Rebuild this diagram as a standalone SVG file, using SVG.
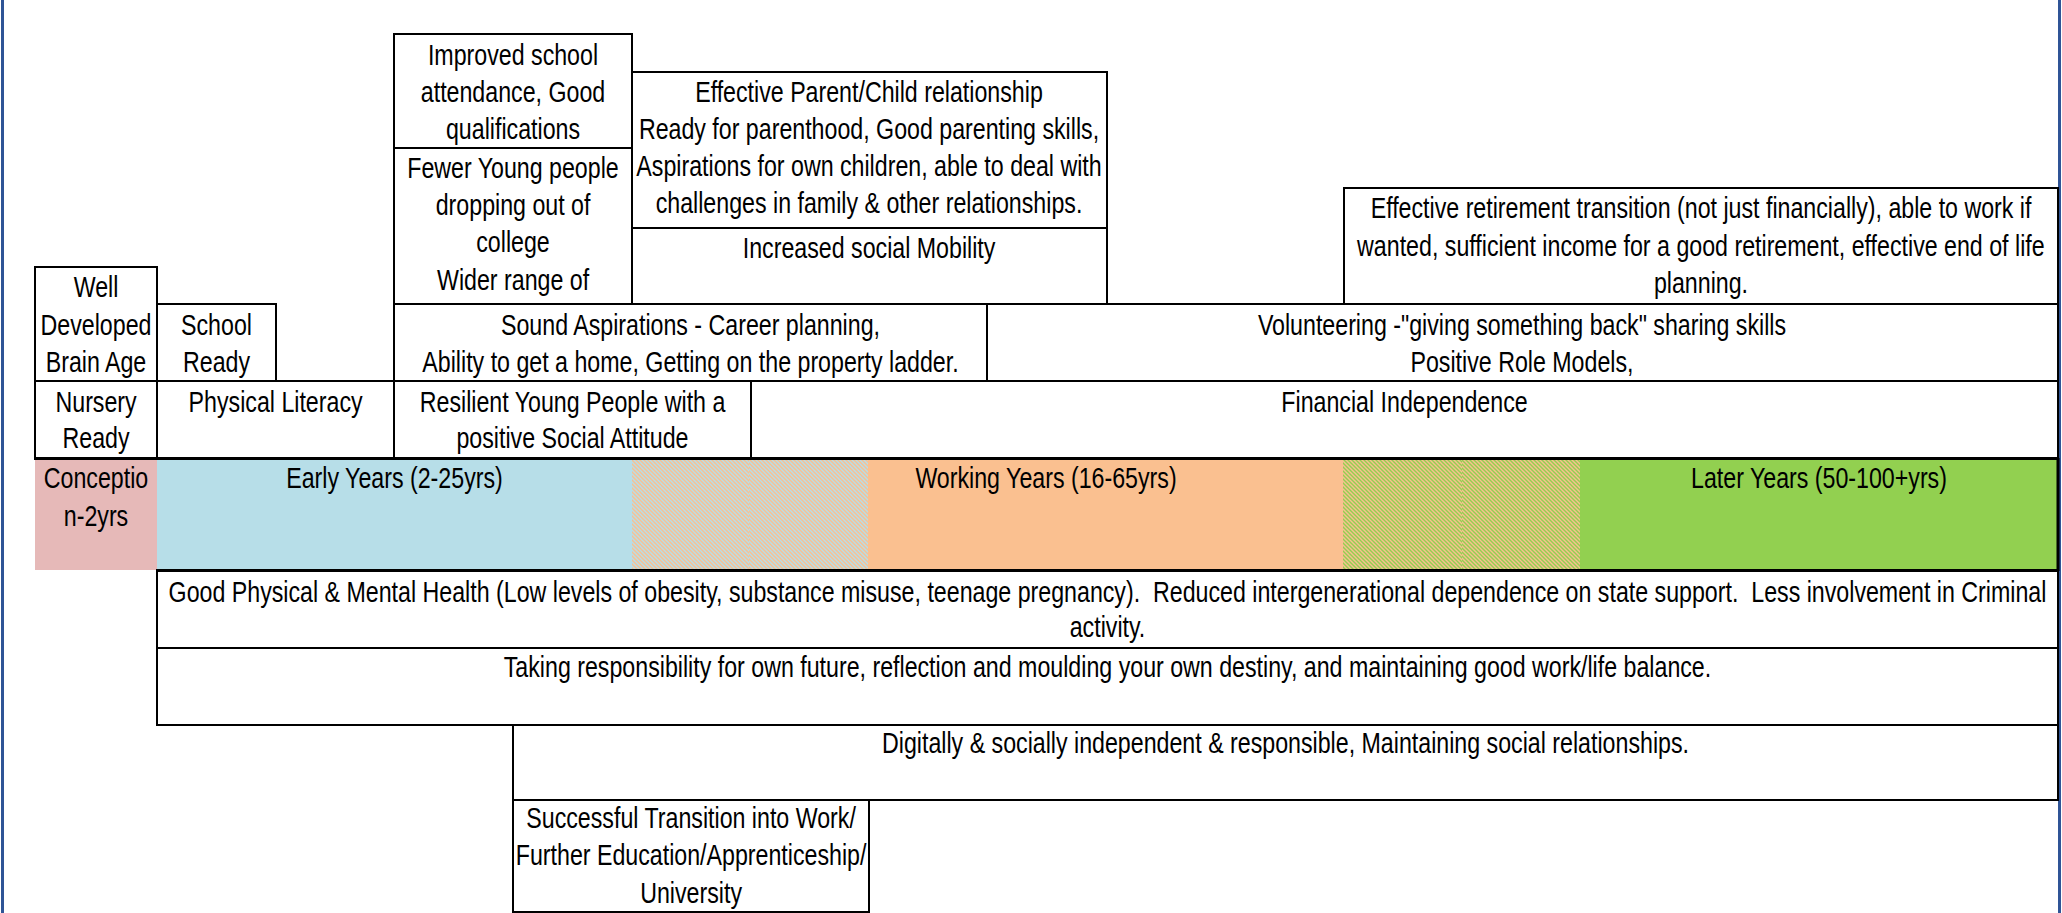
<svg xmlns="http://www.w3.org/2000/svg" width="2062" height="913" viewBox="0 0 2062 913">
  <style>
    /* narrow sans: regular sans condensed about each line's own centre */
    text { font-family: "Liberation Sans Narrow", "Arial Narrow", "Liberation Sans", sans-serif; font-size: 29px; fill: #000; text-anchor: middle;
           transform-box: fill-box; transform-origin: center; transform: scaleX(0.8); white-space: pre; }
    .cell { fill: #fff; stroke: #000; stroke-width: 2; }
    .rule { stroke: #000; stroke-width: 3; fill: none; }
    .edge { stroke: #2F5496; stroke-width: 3; }
  </style>
  <defs>
    <!-- reverse-diagonal stripe fills used where two life stages overlap -->
    <pattern id="blueOrange" width="4" height="4" patternUnits="userSpaceOnUse">
      <rect width="4" height="4" fill="#B7DEE8"/>
      <path d="M-1,-1L5,5M-1,3L1,5M3,-1L5,1" stroke="#FAC090" stroke-width="1.4"/>
    </pattern>
    <pattern id="orangeBlue" width="4" height="4" patternUnits="userSpaceOnUse">
      <rect width="4" height="4" fill="#FAC090"/>
      <path d="M-1,-1L5,5M-1,3L1,5M3,-1L5,1" stroke="#B7DEE8" stroke-width="1.4"/>
    </pattern>
    <pattern id="orangeGreen" width="4" height="4" patternUnits="userSpaceOnUse">
      <rect width="4" height="4" fill="#FAC090"/>
      <path d="M-1,-1L5,5M-1,3L1,5M3,-1L5,1" stroke="#92D050" stroke-width="1.4"/>
    </pattern>
    <pattern id="greenOrange" width="4" height="4" patternUnits="userSpaceOnUse">
      <rect width="4" height="4" fill="#92D050"/>
      <path d="M-1,-1L5,5M-1,3L1,5M3,-1L5,1" stroke="#FAC090" stroke-width="1.4"/>
    </pattern>
  </defs>

  <rect width="2062" height="913" fill="#fff"/>

  <!-- page edges -->
  <g id="page-edges">
    <line class="edge" x1="2.5" y1="0" x2="2.5" y2="913"/>
    <line class="edge" x1="2059.5" y1="0" x2="2059.5" y2="913"/>
  </g>

  <!-- upper outcomes -->
  <g id="improved-school">
    <rect class="cell" x="394" y="34" width="238" height="114"/>
    <text x="513" y="65">Improved school</text>
    <text x="513" y="102">attendance, Good</text>
    <text x="513" y="139">qualifications</text>
  </g>
  <g id="fewer-dropping-out">
    <rect class="cell" x="394" y="148" width="238" height="156"/>
    <text x="513" y="178">Fewer Young people</text>
    <text x="513" y="215">dropping out of</text>
    <text x="513" y="252">college</text>
    <text x="513" y="290">Wider range of</text>
  </g>
  <g id="parent-child">
    <rect class="cell" x="632" y="72" width="475" height="156"/>
    <text x="869" y="102">Effective Parent/Child relationship</text>
    <text x="869" y="139">Ready for parenthood, Good parenting skills,</text>
    <text x="869" y="176">Aspirations for own children, able to deal with</text>
    <text x="869" y="213">challenges in family &amp; other relationships.</text>
  </g>
  <g id="social-mobility">
    <rect class="cell" x="632" y="228" width="475" height="76"/>
    <text x="869" y="258">Increased social Mobility</text>
  </g>
  <g id="retirement">
    <rect class="cell" x="1344" y="188" width="714" height="116"/>
    <text x="1701" y="218">Effective retirement transition (not just financially), able to work if</text>
    <text x="1701" y="256">wanted, sufficient income for a good retirement, effective end of life</text>
    <text x="1701" y="293">planning.</text>
  </g>
  <g id="brain-age">
    <rect class="cell" x="35" y="267" width="122" height="114"/>
    <text x="96" y="297">Well</text>
    <text x="96" y="335">Developed</text>
    <text x="96" y="372">Brain Age</text>
  </g>
  <g id="school-ready">
    <rect class="cell" x="157" y="304" width="119" height="77"/>
    <text x="216.5" y="335">School</text>
    <text x="216.5" y="372">Ready</text>
  </g>
  <g id="aspirations">
    <rect class="cell" x="394" y="304" width="593" height="77"/>
    <text x="690.5" y="335">Sound Aspirations - Career planning,</text>
    <text x="690.5" y="372">Ability to get a home, Getting on the property ladder.</text>
  </g>
  <g id="volunteering">
    <rect class="cell" x="987" y="304" width="1071" height="77"/>
    <text x="1522" y="335">Volunteering -"giving something back" sharing skills</text>
    <text x="1522" y="372">Positive Role Models,</text>
  </g>
  <g id="nursery-ready">
    <rect class="cell" x="35" y="381" width="122" height="77"/>
    <text x="96" y="412">Nursery</text>
    <text x="96" y="448">Ready</text>
  </g>
  <g id="physical-literacy">
    <rect class="cell" x="157" y="381" width="237" height="77"/>
    <text x="275.5" y="412">Physical Literacy</text>
  </g>
  <g id="resilient">
    <rect class="cell" x="394" y="381" width="357" height="77"/>
    <text x="572.5" y="412">Resilient Young People with a</text>
    <text x="572.5" y="448">positive Social Attitude</text>
  </g>
  <g id="financial-independence">
    <rect class="cell" x="751" y="381" width="1307" height="77"/>
    <text x="1404.5" y="412">Financial Independence</text>
  </g>

  <!-- life stage band -->
  <g id="life-stages">
    <rect x="35" y="459" width="122" height="111" fill="#E6B9B8"/>
    <rect x="157" y="459" width="475" height="111" fill="#B7DEE8"/>
    <rect x="632" y="459" width="117" height="111" fill="url(#blueOrange)"/>
    <rect x="749" y="459" width="119" height="111" fill="url(#orangeBlue)"/>
    <rect x="868" y="459" width="475" height="111" fill="#FAC090"/>
    <rect x="1343" y="459" width="119" height="111" fill="url(#orangeGreen)"/>
    <rect x="1462" y="459" width="118" height="111" fill="url(#greenOrange)"/>
    <rect x="1580" y="459" width="478" height="111" fill="#92D050"/>
    <line class="rule" x1="34" y1="458.5" x2="2059" y2="458.5"/>
    <line class="rule" x1="156" y1="570.5" x2="2059" y2="570.5"/>
    <line class="rule" x1="2058" y1="458" x2="2058" y2="571"/>
    <text x="96" y="488">Conceptio</text>
    <text x="96" y="526">n-2yrs</text>
    <text x="394.5" y="488">Early Years (2-25yrs)</text>
    <text x="1046" y="488">Working Years (16-65yrs)</text>
    <text x="1819" y="488">Later Years (50-100+yrs)</text>
  </g>

  <!-- lower outcomes -->
  <g id="health">
    <rect class="cell" x="157" y="571" width="1901" height="77"/>
    <text x="1107.5" y="602">Good Physical &amp; Mental Health (Low levels of obesity, substance misuse, teenage pregnancy).  Reduced intergenerational dependence on state support.  Less involvement in Criminal</text>
    <text x="1107.5" y="637">activity.</text>
  </g>
  <g id="responsibility">
    <rect class="cell" x="157" y="648" width="1901" height="77"/>
    <text x="1107.5" y="677">Taking responsibility for own future, reflection and moulding your own destiny, and maintaining good work/life balance.</text>
  </g>
  <g id="digital-independence">
    <rect class="cell" x="513" y="725" width="1545" height="75"/>
    <text x="1285.5" y="753">Digitally &amp; socially independent &amp; responsible, Maintaining social relationships.</text>
  </g>
  <g id="transition">
    <rect class="cell" x="513" y="800" width="356" height="112"/>
    <text x="691" y="828">Successful Transition into Work/</text>
    <text x="691" y="865">Further Education/Apprenticeship/</text>
    <text x="691" y="903">University</text>
  </g>
</svg>
